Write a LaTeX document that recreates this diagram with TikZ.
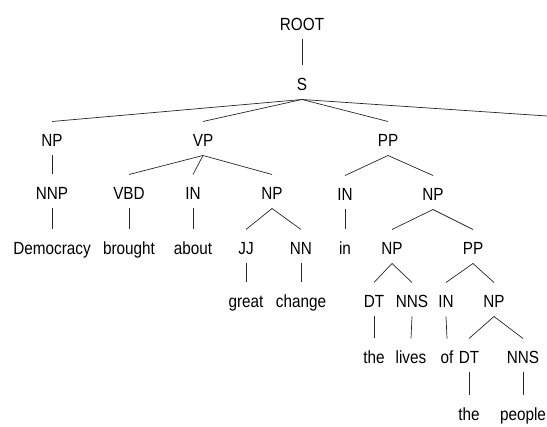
\documentclass[tikz,border=0pt]{standalone}
\usepackage{graphicx}
\usepackage{fontspec}
\setmainfont{Liberation Sans}
% slightly tall glyphs for the tree labels
\newcommand{\lab}[1]{\scalebox{1}[1.15]{#1}}
\tikzset{
  w/.style={anchor=base, inner sep=0pt, font=\fontsize{15.3}{18}\selectfont, text=black},
  edge/.style={draw=black!85, line width=0.7pt}
}
% branch from parent #1 down to child #2
\newcommand{\br}[2]{\draw[edge] ([yshift=-9pt]#1.base) -- ([yshift=25pt]#2.base);}
\begin{document}
\begin{tikzpicture}[x=1pt, y=-1pt]
\useasboundingbox (0,0) rectangle (547,427);

% level 0-1
\node[w] (root) at (302,30.5) {\lab{ROOT}};
\node[w] (s)    at (302,90.5) {\lab{S}};
% level 2
\node[w] (np1) at (52,146.5)  {\lab{NP}};
\node[w] (vp)  at (203,146.5) {\lab{VP}};
\node[w] (pp1) at (388,146.5) {\lab{PP}};
\coordinate (cut) at (547,116);
% level 3
\node[w] (nnp) at (52,199.5)  {\lab{NNP}};
\node[w] (vbd) at (129,199.5) {\lab{VBD}};
\node[w] (in1) at (193,199.5) {\lab{IN}};
\node[w] (np2) at (272,199.5) {\lab{NP}};
\node[w] (in2) at (345,200.5) {\lab{IN}};
\node[w] (np3) at (433,200.5) {\lab{NP}};
% level 4
\node[w] (w1)  at (52,254.5)  {\lab{Democracy}};
\node[w] (w2)  at (129,254.5) {\lab{brought}};
\node[w] (w3)  at (193,254.5) {\lab{about}};
\node[w] (jj)  at (246,254.5) {\lab{JJ}};
\node[w] (nn)  at (301,254.5) {\lab{NN}};
\node[w] (w4)  at (345,254.5) {\lab{in}};
\node[w] (np4) at (392,254.5) {\lab{NP}};
\node[w] (pp2) at (473,254.5) {\lab{PP}};
% level 5
\node[w] (w5)   at (246,307.5) {\lab{great}};
\node[w] (w6)   at (301,307.5) {\lab{change}};
\node[w] (dt1)  at (374,307.5) {\lab{DT}};
\node[w] (nns1) at (412,307.5) {\lab{NNS}};
\node[w] (in3)  at (446,307.5) {\lab{IN}};
\node[w] (np5)  at (494,307.5) {\lab{NP}};
% level 6
\node[w] (w7)   at (374,363.5) {\lab{the}};
\node[w] (w8)   at (411,363.5) {\lab{lives}};
\node[w] (w9)   at (447,363.5) {\lab{of}};
\node[w] (dt2)  at (469,363.5) {\lab{DT}};
\node[w] (nns2) at (523,363.5) {\lab{NNS}};
% level 7
\node[w] (w10) at (469,420.5) {\lab{the}};
\node[w] (w11) at (523,420.5) {\lab{people}};

% connectors
\br{root}{s}
\br{s}{np1} \br{s}{vp} \br{s}{pp1}
\draw[edge] ([yshift=-9pt]s.base) -- (cut);
\br{np1}{nnp} \br{nnp}{w1}
\br{vp}{vbd} \br{vp}{in1} \br{vp}{np2}
\br{vbd}{w2} \br{in1}{w3}
\br{np2}{jj} \br{np2}{nn} \br{jj}{w5} \br{nn}{w6}
\br{pp1}{in2} \br{pp1}{np3} \br{in2}{w4}
\br{np3}{np4} \br{np3}{pp2}
\br{np4}{dt1} \br{np4}{nns1} \br{dt1}{w7} \br{nns1}{w8}
\br{pp2}{in3} \br{pp2}{np5} \br{in3}{w9}
\br{np5}{dt2} \br{np5}{nns2} \br{dt2}{w10} \br{nns2}{w11}
\end{tikzpicture}
\end{document}
